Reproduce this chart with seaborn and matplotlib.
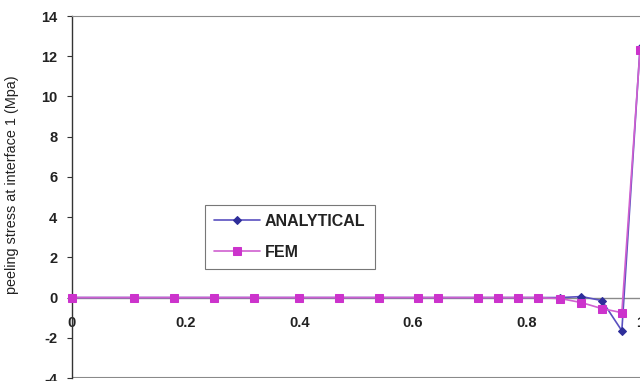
import matplotlib
matplotlib.use("Agg")
import matplotlib.pyplot as plt
import seaborn as sns
import pandas as pd

# Data
x_pos = [0, 0.11, 0.18, 0.25, 0.32, 0.40, 0.47, 0.54, 0.61, 0.645,
         0.715, 0.75, 0.785, 0.82, 0.86, 0.897, 0.933, 0.968, 1.0]
analytical = [0, 0, 0, 0, 0, 0, 0, 0, 0, 0,
              0, 0, 0, 0, 0, 0.05, -0.15, -1.65, 12.4]
fem = [0, 0, 0, 0, 0, 0, 0, 0, 0, 0,
       0, 0, 0, 0, -0.05, -0.25, -0.55, -0.75, 12.3]
x_ticks = [0, 0.2, 0.4, 0.6, 0.8, 1]
x_tick_labels = ["0", "0.2", "0.4", "0.6", "0.8", "1"]
y_ticks = [-4, -2, 0, 2, 4, 6, 8, 10, 12, 14]
series_names = ["ANALYTICAL", "FEM"]

df = pd.DataFrame({
    "x": x_pos * 2,
    "y": analytical + fem,
    "series": [series_names[0]] * len(x_pos) + [series_names[1]] * len(x_pos),
})

sns.set_style("white")
plt.rcParams["font.family"] = ["Liberation Sans", "DejaVu Sans"]
plt.rcParams["axes.unicode_minus"] = False

fig = plt.figure(figsize=(6.4, 3.81), dpi=100)
ax = fig.add_axes([72 / 640, 1 - 378 / 381, 1 - 72 / 640, (378 - 16) / 381])

line_colors = {"ANALYTICAL": "#5a50c0", "FEM": "#d060d0"}
marker_colors = {"ANALYTICAL": "#2e2e9a", "FEM": "#cc33cc"}
markers = {"ANALYTICAL": "D", "FEM": "s"}
sizes = {"ANALYTICAL": 4.5, "FEM": 6.0}
zorders = {"ANALYTICAL": 3, "FEM": 4}

for name in series_names:
    sub = df[df["series"] == name]
    sns.lineplot(data=sub, x="x", y="y", ax=ax, color=line_colors[name],
                 lw=1.2, marker=markers[name], markersize=sizes[name],
                 markerfacecolor=marker_colors[name],
                 markeredgecolor=marker_colors[name], label=name,
                 clip_on=False, zorder=zorders[name])

ax.set_xlim(0, 1.0)
ax.set_ylim(-4, 14)
ax.set_xticks(x_ticks)
ax.set_xticklabels(x_tick_labels)
ax.set_yticks(y_ticks)

ax.spines["top"].set_visible(True)
ax.spines["left"].set_visible(True)
ax.spines["right"].set_visible(False)
ax.spines["top"].set_color("#8a8a8a")
ax.spines["left"].set_color("#333333")
ax.spines["left"].set_linewidth(1.0)
ax.spines["bottom"].set_position(("data", 0))
ax.spines["bottom"].set_color("#8a8a8a")
ax.spines["bottom"].set_linewidth(1.0)
ax.axhline(-4, color="#8a8a8a", lw=1.5, zorder=1)

ax.tick_params(axis="y", direction="out", length=3.5, width=0.8,
               color="#333333", pad=7, labelsize=10.5, left=True)
ax.tick_params(axis="x", direction="out", length=0, pad=13,
               labelsize=10.5, bottom=True)
for lab in ax.get_xticklabels() + ax.get_yticklabels():
    lab.set_fontweight("bold")
    lab.set_color("#222222")

ax.set_xlabel("")
ax.set_ylabel("peeling stress at interface 1 (Mpa)", fontsize=10.4,
              color="#222222")
ax.yaxis.set_label_coords(-(72 - 19) / 568, 1 - (185 - 16) / 362)

leg = ax.legend(loc="upper left",
                bbox_to_anchor=((205 - 72) / 568, 1 - (205 - 16) / 362),
                frameon=True, fancybox=False, edgecolor="#555555",
                fontsize=11.5, handlelength=2.9, borderpad=0.56,
                labelspacing=1.0, handletextpad=0.3, borderaxespad=0)
leg.get_frame().set_linewidth(0.8)
for t in leg.get_texts():
    t.set_fontweight("bold")
    t.set_color("#222222")

fig.savefig("out.png", dpi=100)
